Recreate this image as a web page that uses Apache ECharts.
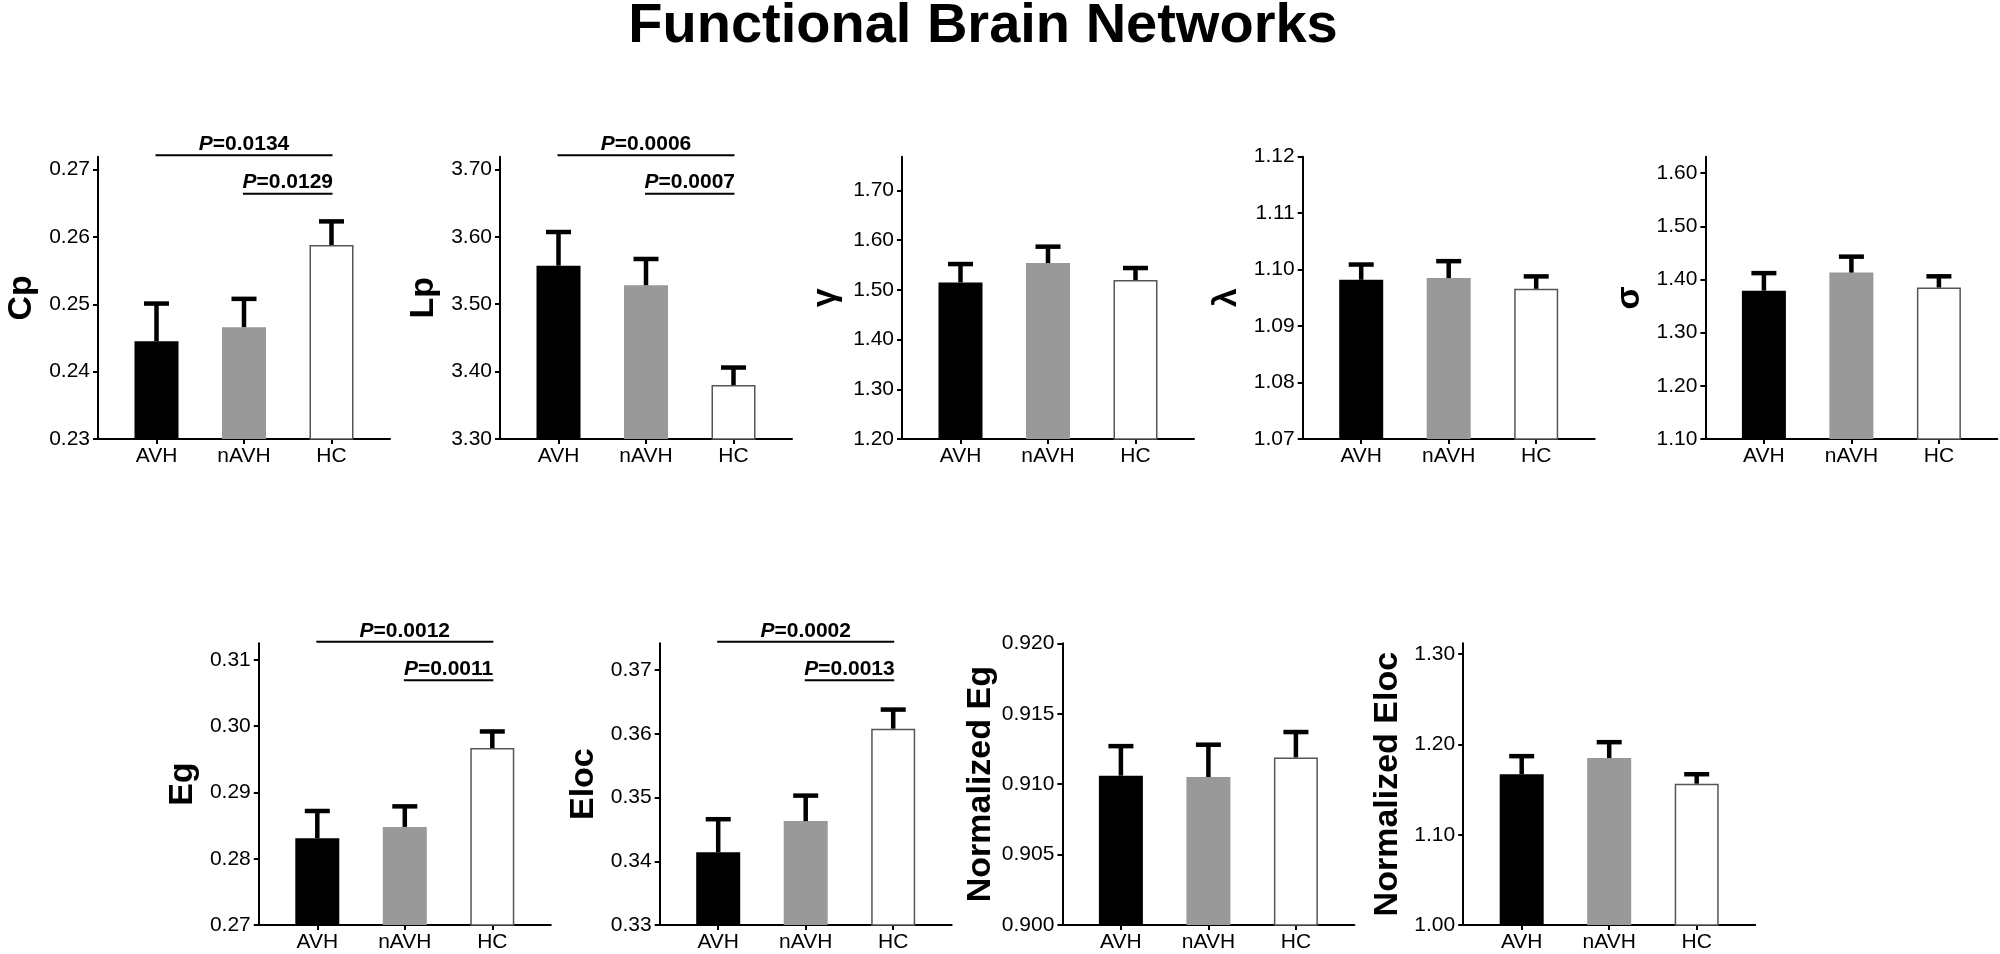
<!DOCTYPE html>
<html>
<head>
<meta charset="utf-8">
<title>Functional Brain Networks</title>
<style>
    html, body { margin: 0; padding: 0; background: #ffffff; }
    #main { width: 2000px; height: 954px; }
</style>
</head>
<body>
<div id="main"></div>
<script src="https://cdn.jsdelivr.net/npm/echarts@6/dist/echarts.min.js"></script>
<script>
// ---- data ----
var groups = ['AVH', 'nAVH', 'HC'];
var metricNames = ['Cp', 'Lp', 'γ', 'λ', 'σ', 'Eg', 'Eloc', 'Normalized Eg', 'Normalized Eloc'];

// bar heights (mean) and top of error bar (mean + SEM), order AVH, nAVH, HC
var means = [
    [0.2445, 0.2466, 0.2588],
    [3.557, 3.528, 3.380],
    [1.515, 1.554, 1.520],
    [1.0982, 1.0985, 1.0966],
    [1.379, 1.413, 1.385],
    [0.2831, 0.2848, 0.2967],
    [0.3414, 0.3463, 0.3608],
    [0.9106, 0.9105, 0.9119],
    [1.167, 1.185, 1.1565]
];
var uppers = [
    [0.2501, 0.2508, 0.2623],
    [3.607, 3.567, 3.406],
    [1.552, 1.587, 1.544],
    [1.1009, 1.1015, 1.0988],
    [1.412, 1.443, 1.406],
    [0.2872, 0.2879, 0.2992],
    [0.3466, 0.3503, 0.3638],
    [0.9127, 0.9128, 0.9137],
    [1.187, 1.2025, 1.167]
];

// y axis ranges and tick labels
var yMins = [0.23, 3.30, 1.20, 1.07, 1.10, 0.27, 0.33, 0.900, 1.00];
var yMaxs = [0.2719, 3.7187, 1.768, 1.12, 1.631, 0.3125, 0.3742, 0.920, 1.312];
var yTicks = [
    [0.23, 0.24, 0.25, 0.26, 0.27],
    [3.30, 3.40, 3.50, 3.60, 3.70],
    [1.20, 1.30, 1.40, 1.50, 1.60, 1.70],
    [1.07, 1.08, 1.09, 1.10, 1.11, 1.12],
    [1.10, 1.20, 1.30, 1.40, 1.50, 1.60],
    [0.27, 0.28, 0.29, 0.30, 0.31],
    [0.33, 0.34, 0.35, 0.36, 0.37],
    [0.900, 0.905, 0.910, 0.915, 0.920],
    [1.00, 1.10, 1.20, 1.30]
];
var tickDecimals = [2, 2, 2, 2, 2, 2, 2, 3, 2];

// significance brackets: AVH vs HC, nAVH vs HC
var comparisons = [[1, 3], [2, 3]];
var pLabels = [
    ['0.0134', '0.0129'],
    ['0.0006', '0.0007'],
    null, null, null,
    ['0.0012', '0.0011'],
    ['0.0002', '0.0013'],
    null, null
];

// ---- layout ----
var FONT = '"Liberation Sans", Arial, Helvetica, sans-serif';
var panelLeft = [98, 500, 902, 1302.7, 1705.4, 258.8, 659.7, 1062.4, 1463.2];
var panelTop = [156.7, 156.7, 156.7, 156.7, 156.7, 643.3, 643.3, 643.3, 643.3];
var panelHeight = [282.3, 282.3, 282.3, 282.3, 282.3, 281.7, 281.7, 281.7, 281.7];
var panelWidth = 292;
var firstCenter = 58.5;   // px from y axis to first bar centre
var barStep = 87.5;       // px between bar centres
var xMin = 1 - firstCenter / barStep;
var xMax = xMin + panelWidth / barStep;
var barColors = ['#000000', '#999999', '#ffffff'];
var bracketOffsets = [-1.5, 37];

function errorBarRenderer(params, api) {
    var x = api.value(0);
    var base = api.coord([x, api.value(1)]);
    var top = api.coord([x, api.value(2)]);
    return {
        type: 'group',
        children: [
            { type: 'line', shape: { x1: base[0], y1: base[1], x2: top[0], y2: top[1] },
              style: { stroke: '#000', lineWidth: 4.5 } },
            { type: 'line', shape: { x1: top[0] - 12.5, y1: top[1], x2: top[0] + 12.5, y2: top[1] },
              style: { stroke: '#000', lineWidth: 4.5 } }
        ]
    };
}

function bracketRenderer(p) {
    return function (params, api) {
        var k = params.dataIndex;
        var a = api.coord([api.value(0), yMins[p]]);
        var b = api.coord([api.value(1), yMins[p]]);
        var lineY = params.coordSys.y + bracketOffsets[k];
        return {
            type: 'group',
            children: [
                { type: 'line', shape: { x1: a[0] - 1, y1: lineY, x2: b[0] + 1, y2: lineY },
                  style: { stroke: '#000', lineWidth: 2 } },
                { type: 'text', x: (a[0] + b[0]) / 2, y: lineY - 11,
                  style: {
                      text: '{i|P}{b|=' + pLabels[p][k] + '}',
                      align: 'center', verticalAlign: 'middle',
                      fill: '#000', fontSize: 21, fontFamily: FONT, fontWeight: 'bold',
                      rich: {
                          i: { fontStyle: 'italic', fontWeight: 'bold', fontSize: 21, fontFamily: FONT, fill: '#000' },
                          b: { fontWeight: 'bold', fontSize: 21, fontFamily: FONT, fill: '#000' }
                      }
                  } }
            ]
        };
    };
}

var grids = [], xAxes = [], yAxes = [], series = [];
metricNames.forEach(function (name, p) {
    grids.push({
        left: panelLeft[p], top: panelTop[p], width: panelWidth, height: panelHeight[p],
        containLabel: false, outerBoundsMode: 'none'
    });
    xAxes.push({
        gridIndex: p, type: 'value', min: xMin, max: xMax,
        axisLine: { onZero: false, lineStyle: { color: '#000', width: 2 } },
        axisTick: { show: true, customValues: [1, 2, 3], length: 5, lineStyle: { color: '#000', width: 2 } },
        axisLabel: {
            customValues: [1, 2, 3], margin: 7, fontSize: 21, fontFamily: FONT, color: '#000',
            formatter: function (v) { return groups[Math.round(v) - 1]; }
        },
        splitLine: { show: false }
    });
    yAxes.push({
        gridIndex: p, type: 'value', min: yMins[p], max: yMaxs[p],
        name: name, nameLocation: 'middle', nameGap: 59, nameRotate: 90,
        nameTextStyle: { fontSize: 34, fontWeight: 'bold', fontFamily: FONT, color: '#000' },
        axisLine: { show: true, onZero: false, lineStyle: { color: '#000', width: 2 } },
        axisTick: { show: true, customValues: yTicks[p], length: 5, lineStyle: { color: '#000', width: 2 } },
        axisLabel: {
            customValues: yTicks[p], margin: 8, fontSize: 21, fontFamily: FONT, color: '#000',
            formatter: function (v) { return v.toFixed(tickDecimals[p]); }
        },
        splitLine: { show: false }
    });
    series.push({
        type: 'bar', xAxisIndex: p, yAxisIndex: p, barWidth: 44,
        data: groups.map(function (g, j) {
            return {
                value: [j + 1, means[p][j]],
                itemStyle: {
                    color: barColors[j],
                    borderColor: j === 2 ? '#555555' : barColors[j],
                    borderWidth: j === 2 ? 1.5 : 0
                }
            };
        }),
        silent: true
    });
    series.push({
        type: 'custom', xAxisIndex: p, yAxisIndex: p, z: 5,
        renderItem: errorBarRenderer,
        encode: { x: 0, y: [1, 2] },
        data: groups.map(function (g, j) { return [j + 1, means[p][j], uppers[p][j]]; }),
        silent: true
    });
    if (pLabels[p]) {
        series.push({
            type: 'custom', xAxisIndex: p, yAxisIndex: p, z: 6, clip: false,
            renderItem: bracketRenderer(p),
            encode: { x: [0, 1] },
            data: comparisons,
            silent: true
        });
    }
});

var chart = echarts.init(document.getElementById('main'));
chart.setOption({
    backgroundColor: '#ffffff',
    animation: false,
    graphic: [{
        type: 'text', x: 983, y: 26.5,
        style: {
            text: 'Functional Brain Networks', align: 'center', verticalAlign: 'middle',
            fontSize: 56, fontWeight: 'bold', fontFamily: FONT, fill: '#000'
        }
    }],
    grid: grids,
    xAxis: xAxes,
    yAxis: yAxes,
    series: series
});
</script>
</body>
</html>
